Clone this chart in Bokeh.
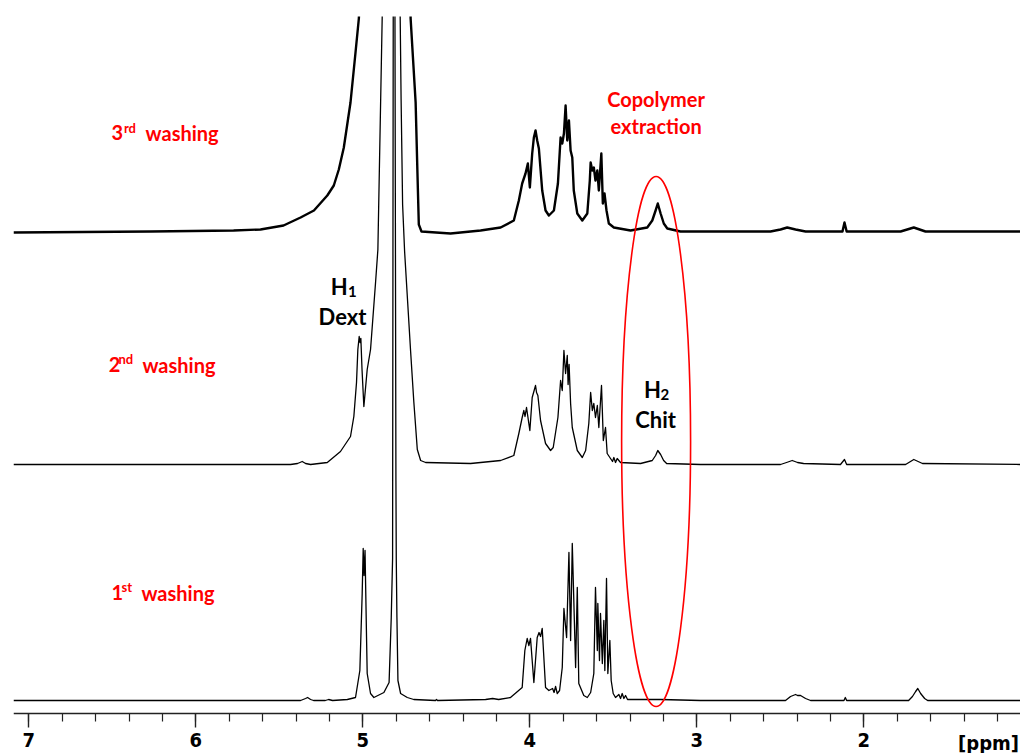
import numpy as np
from bokeh.plotting import figure
from bokeh.models import Range1d, SingleIntervalTicker, LinearAxis, Label
from bokeh.embed import file_html
from bokeh.resources import INLINE

# ---------------- data (chemical shift in ppm, intensity in arbitrary units) ----------------
# 1st washing
ppm_1 = [7.092, 5.433, 5.373, 5.343, 5.331, 5.313, 5.295, 5.225, 5.205, 5.181, 5.093, 5.044, 5.018, 5.004,
         4.998, 4.993, 4.987, 4.978, 4.974, 4.954, 4.934, 4.874, 4.843, 4.830, 4.822, 4.818, 4.813, 4.808,
         4.802, 4.800, 4.796, 4.790, 4.774, 4.734, 4.695, 4.565, 4.559, 4.553, 4.265, 4.223, 4.187, 4.116,
         4.046, 4.030, 4.016, 4.006, 3.996, 3.976, 3.956, 3.945, 3.936, 3.926, 3.906, 3.886, 3.864, 3.855,
         3.846, 3.836, 3.822, 3.806, 3.796, 3.780, 3.766, 3.756, 3.746, 3.726, 3.716, 3.707, 3.677, 3.656,
         3.636, 3.617, 3.607, 3.596, 3.593, 3.583, 3.577, 3.566, 3.557, 3.551, 3.541, 3.533, 3.521, 3.513,
         3.501, 3.487, 3.467, 3.457, 3.447, 3.437, 3.427, 3.415, 3.337, 3.217, 2.978, 2.469, 2.439, 2.409,
         2.397, 2.379, 2.349, 2.319, 2.119, 2.111, 2.103, 1.732, 1.709, 1.690, 1.677, 1.660, 1.636, 1.618,
         1.062]
int_1 = [0, 0, 0, 2, 3, 1, 0, 0, 1, 0, 1, 3, 30, 107,
         152, 125, 150, 63, 27, 7, 3, 8, 18, 83, 142, 700, 1500, 700,
         220, 142, 83, 20, 7, 3, 1, 0, 1, 0, 1, 2, 1, 3,
         13, 50, 62, 55, 62, 18, 63, 68, 64, 72, 13, 10, 12, 8,
         14, 7, 10, 33, 92, 63, 148, 60, 157, 33, 113, 17, 5, 3,
         8, 27, 113, 50, 97, 40, 87, 37, 80, 30, 122, 27, 60, 20,
         7, 3, 6, 2, 7, 2, 5, 1, 1, 1, 0, 0, 4, 6,
         5, 5, 2, 0, 0, 3, 0, 0, 4, 9, 12, 7, 2, 0,
         0]

# 2nd washing
ppm_2 = [7.092, 5.433, 5.391, 5.363, 5.343, 5.313, 5.213, 5.134, 5.074, 5.054, 5.038, 5.030, 5.022, 5.017,
         5.012, 5.005, 4.994, 4.974, 4.954, 4.924, 4.910, 4.884, 4.858, 4.816, 4.792, 4.780, 4.771, 4.762,
         4.750, 4.732, 4.714, 4.695, 4.674, 4.654, 4.624, 4.355, 4.175, 4.096, 4.066, 4.046, 4.036, 4.029,
         4.020, 4.000, 3.986, 3.966, 3.960, 3.952, 3.936, 3.906, 3.876, 3.860, 3.832, 3.816, 3.806, 3.796,
         3.786, 3.776, 3.771, 3.765, 3.756, 3.746, 3.716, 3.686, 3.666, 3.647, 3.636, 3.626, 3.617, 3.607,
         3.596, 3.587, 3.571, 3.560, 3.547, 3.537, 3.517, 3.505, 3.497, 3.487, 3.477, 3.457, 3.337, 3.267,
         3.247, 3.234, 3.217, 3.199, 3.181, 2.978, 2.499, 2.463, 2.429, 2.397, 2.361, 2.140, 2.116, 2.103,
         1.750, 1.701, 1.649, 1.062]
int_2 = [0, 0, 1, 3, 1, 0, 2, 13, 28, 48, 82, 115, 128, 122,
         126, 95, 58, 95, 115, 182, 215, 449, 1200, 2000, 900, 500, 365, 260,
         213, 163, 113, 63, 15, 4, 2, 1, 4, 9, 31, 47, 54, 48,
         57, 34, 67, 79, 72, 69, 44, 21, 14, 17, 47, 84, 74, 114,
         91, 109, 80, 100, 61, 37, 14, 7, 14, 41, 72, 54, 61, 47,
         59, 37, 79, 24, 37, 11, 6, 3, 7, 2, 6, 2, 1, 4,
         9, 14, 10, 4, 1, 0, 0, 2, 4, 2, 1, 0, 5, 0,
         0, 5, 1, 0]

# 3rd washing
ppm_3 = [7.092, 6.271, 5.774, 5.613, 5.475, 5.373, 5.293, 5.213, 5.174, 5.144, 5.114, 5.074, 5.044, 5.024,
         5.002, 4.954, 4.816, 4.738, 4.714, 4.699, 4.684, 4.674, 4.665, 4.649, 4.475, 4.295, 4.175, 4.096,
         4.066, 4.046, 4.026, 4.012, 4.000, 3.986, 3.976, 3.966, 3.956, 3.946, 3.926, 3.906, 3.886, 3.856,
         3.832, 3.816, 3.806, 3.796, 3.786, 3.776, 3.766, 3.756, 3.746, 3.737, 3.716, 3.686, 3.656, 3.641,
         3.636, 3.626, 3.617, 3.607, 3.596, 3.587, 3.572, 3.563, 3.553, 3.541, 3.527, 3.497, 3.397, 3.297,
         3.267, 3.247, 3.234, 3.217, 3.198, 3.177, 3.098, 2.559, 2.499, 2.459, 2.409, 2.349, 2.128, 2.116,
         2.103, 1.780, 1.701, 1.631, 1.062]
int_3 = [0, 1, 2, 3, 7, 15, 22, 37, 47, 63, 85, 130, 180, 214,
         300, 800, 3000, 500, 214, 172, 130, 65, 8, 1, -1, 2, 5, 12,
         32, 49, 59, 69, 45, 79, 95, 102, 92, 84, 42, 22, 17, 22,
         49, 95, 89, 99, 127, 92, 112, 82, 75, 42, 19, 12, 19, 52,
         70, 62, 65, 52, 62, 42, 79, 29, 39, 22, 9, 5, 2, 5,
         12, 22, 29, 19, 9, 4, 1, 1, 3, 5, 3, 1, 1, 10,
         1, 1, 5, 1, 1]

axis_unit = "[ppm]"

# ---------------- figure ----------------
# frame runs down to the bottom of the canvas; the ppm axis sits at intensity 0
p = figure(width=1020, height=753, output_backend="svg", toolbar_location=None,
           x_range=Range1d(7.092, 1.062), y_range=Range1d(-40, 697),
           x_axis_location=None, y_axis_location=None,
           min_border_left=13, min_border_right=0, min_border_top=16, min_border_bottom=0)
p.outline_line_color = None
p.background_fill_color = "white"
p.border_fill_color = "white"
p.grid.visible = False

offsets = [13, 249, 481]
widths = [1.3, 1.3, 2.4]
for xs, ys, off, lw in zip([ppm_1, ppm_2, ppm_3], [int_1, int_2, int_3], offsets, widths):
    p.line(xs, np.array(ys, dtype=float) + off, line_color="black", line_width=lw, line_join="round")

# red ellipse around the chitosan H2 region
p.ellipse(x=[3.244], y=[272], width=[0.413], height=[530], fill_color=None,
          line_color="#ff0000", line_width=1.6)

# axis
NARROW = "Liberation Sans Narrow, DejaVu Sans Condensed, sans-serif"
axis = LinearAxis(ticker=SingleIntervalTicker(interval=1, num_minor_ticks=5), fixed_location=0)
axis.axis_line_color = "#222222"
axis.axis_line_width = 1.6
axis.major_tick_line_color = "#222222"
axis.major_tick_line_width = 1.4
axis.minor_tick_line_color = "#222222"
axis.minor_tick_line_width = 1.2
axis.major_tick_in = 0
axis.major_tick_out = 14
axis.minor_tick_in = 0
axis.minor_tick_out = 8
axis.major_label_standoff = 5
axis.major_label_text_font = NARROW
axis.major_label_text_font_style = "bold"
axis.major_label_text_font_size = "20px"
axis.major_label_text_color = "black"
p.add_layout(axis, "below")

FONT = "Lato"
DY = 8  # text baseline correction


def txt(x, y, s, size, color, align="left", style="bold", font=FONT):
    p.add_layout(Label(x=x, y=y + DY, text=s, text_font=font, text_font_size=size,
                       text_font_style=style, text_color=color, text_align=align,
                       text_baseline="alphabetic"))


RED = "#ff0000"
# washing labels with superscripts
txt(6.505, 573, "3", "20px", RED)
txt(6.431, 578, "rd", "13px", RED)
txt(6.301, 573, "washing", "20px", RED)

txt(6.521, 341, "2", "20px", RED)
txt(6.463, 347, "nd", "13px", RED)
txt(6.320, 341, "washing", "20px", RED)

txt(6.505, 113, "1", "20px", RED)
txt(6.445, 119, "st", "13px", RED)
txt(6.326, 113, "washing", "20px", RED)

txt(3.244, 607, "Copolymer", "20px", RED, align="center")
txt(3.244, 580, "extraction", "20px", RED, align="center")

# proton assignments
txt(5.193, 419, "H", "22px", "black")
txt(5.089, 414, "1", "15px", "black")
txt(5.122, 389, "Dext", "22px", "black", align="center")
txt(3.317, 316, "H", "22px", "black")
txt(3.217, 311, "2", "15px", "black")
txt(3.247, 286, "Chit", "22px", "black", align="center")

# unit label at the right end of the axis
txt(1.253, -37, axis_unit, "20px", "black", align="center", font=NARROW)

open("out.html", "w").write(file_html(p, INLINE))
